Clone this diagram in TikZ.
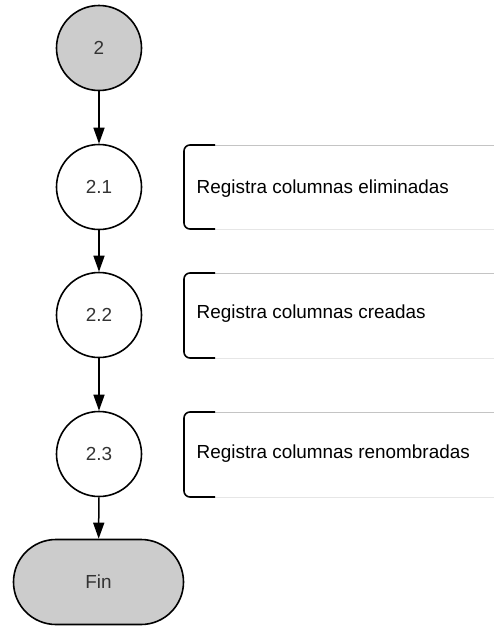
\documentclass[tikz,border=0pt]{standalone}
\usepackage{fontspec}
\setmainfont{Liberation Sans}
\usetikzlibrary{arrows.meta,shapes.misc}
\definecolor{nodegray}{HTML}{CCCCCC}
\definecolor{inktext}{HTML}{333333}
\definecolor{ruletop}{HTML}{C4C4C4}
\definecolor{rulebot}{HTML}{E6E6E6}

\begin{document}
\begin{tikzpicture}[x=1pt,y=-1pt,
  labelfont/.style={font=\fontsize{18.9}{22}\selectfont},
  stepcircle/.style={circle, draw=black, line width=1.6pt, minimum size=85pt,
    inner sep=0pt, labelfont, text=inktext, fill=white},
  startcircle/.style={stepcircle, fill=nodegray},
  endbox/.style={rounded rectangle, draw=black, line width=1.6pt, fill=nodegray,
    minimum width=170pt, minimum height=85pt, inner sep=0pt, labelfont, text=inktext},
  flow/.style={line width=1.5pt, -{Triangle[length=16pt,width=11pt]}},
  notetext/.style={anchor=base west, labelfont, text=black, inner sep=0pt},
  notebracket/.style={line width=1.6pt, rounded corners=6pt},
  notetop/.style={line width=0.9pt, draw=ruletop},
  notebot/.style={line width=0.9pt, draw=rulebot}
]
\useasboundingbox (0,0) rectangle (494,627);

% process chain
\node[startcircle] (n2)  at (99,48)  {2};
\node[stepcircle]  (n21) at (99,187) {2.1};
\node[stepcircle]  (n22) at (99,315) {2.2};
\node[stepcircle]  (n23) at (99,454) {2.3};
\node[endbox]      (fin) at (98.5,582) {Fin};

\draw[flow] (n2)  -- (n21);
\draw[flow] (n21) -- (n22);
\draw[flow] (n22) -- (n23);
\draw[flow] (n23) -- (fin);

% annotations
\foreach \top/\bot/\base/\txt/\nm in {
    145/229/193/{Registra columnas eliminadas}/t1,
    273/358/318/{Registra columnas creadas}/t2,
    412/497/458/{Registra columnas renombradas}/t3} {
  \draw[notetop] (214,\top) -- (494,\top);
  \draw[notebot] (214,\bot) -- (494,\bot);
  \draw[notebracket] (215,\top) -| (184,\bot) -- (215,\bot);
  \node[notetext] (\nm) at (196.5,\base) {\txt};
}
\end{tikzpicture}
\end{document}
